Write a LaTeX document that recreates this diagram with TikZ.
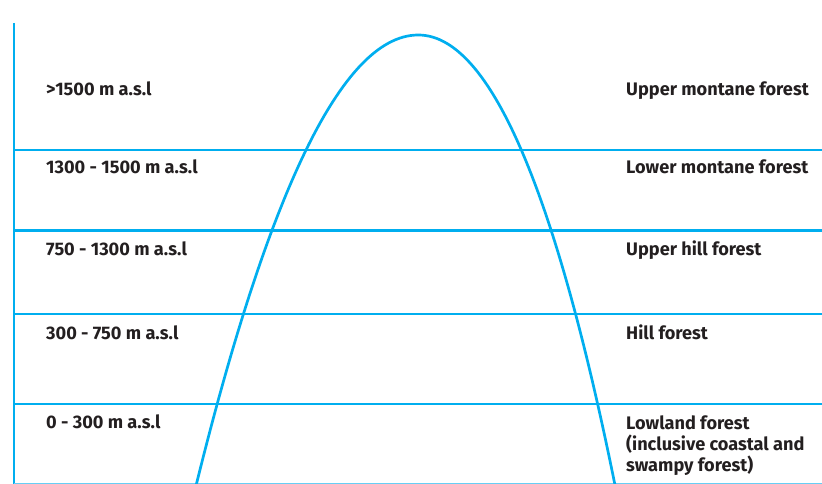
\documentclass[tikz,border=0pt]{standalone}
\usepackage{fontspec}
\setmainfont{Fira Sans}
\definecolor{zoneblue}{HTML}{00AEEF}
\definecolor{labelgray}{HTML}{231F20}
\begin{document}
\begin{tikzpicture}[x=0.03cm,y=-0.03cm,
  zoneline/.style={draw=zoneblue,line width=2.3pt},
  zonelabel/.style={anchor=base west,inner sep=0pt,text=labelgray,
    font=\fontsize{15.5}{18}\selectfont\bfseries,align=left}]
\useasboundingbox (0,0) rectangle (822,484);

% axis and altitude bands
\draw[zoneline] (14,23) -- (14,490);
\draw[zoneline] (14,150) -- (822,150);
\draw[zoneline] (14,230.5) -- (822,230.5);
\draw[zoneline] (14,314) -- (822,314);
\draw[zoneline] (14,404) -- (822,404);
\draw[draw=zoneblue!60,line width=2pt] (14,484) -- (822,484);

% mountain
\draw[zoneline] plot[domain=-21.2:0,samples=60] ({418.3+10.47*\x},{35+\x*\x})
  -- plot[domain=0:21.2,samples=60] ({418.3+(9.95-0.032*\x)*\x},{35+\x*\x});

% altitude labels
\node[zonelabel] (alt1) at (46,96) {>1500 m a.s.l};
\node[zonelabel] (alt2) at (46,174) {1300 - 1500 m a.s.l};
\node[zonelabel] (alt3) at (46,255) {750 - 1300 m a.s.l};
\node[zonelabel] (alt4) at (46,339) {300 - 750 m a.s.l};
\node[zonelabel] (alt5) at (46,428) {0 - 300 m a.s.l};

% forest labels
\node[zonelabel] (forest1) at (626,96) {Upper montane forest};
\node[zonelabel] (forest2) at (626,174) {Lower montane forest};
\node[zonelabel] (forest3) at (626,255) {Upper hill forest};
\node[zonelabel] (forest4) at (626,339) {Hill forest};
\node[zonelabel,anchor=north west] (forest5) at (626,415) {Lowland forest\\(inclusive coastal and\\swampy forest)};
\end{tikzpicture}
\end{document}
